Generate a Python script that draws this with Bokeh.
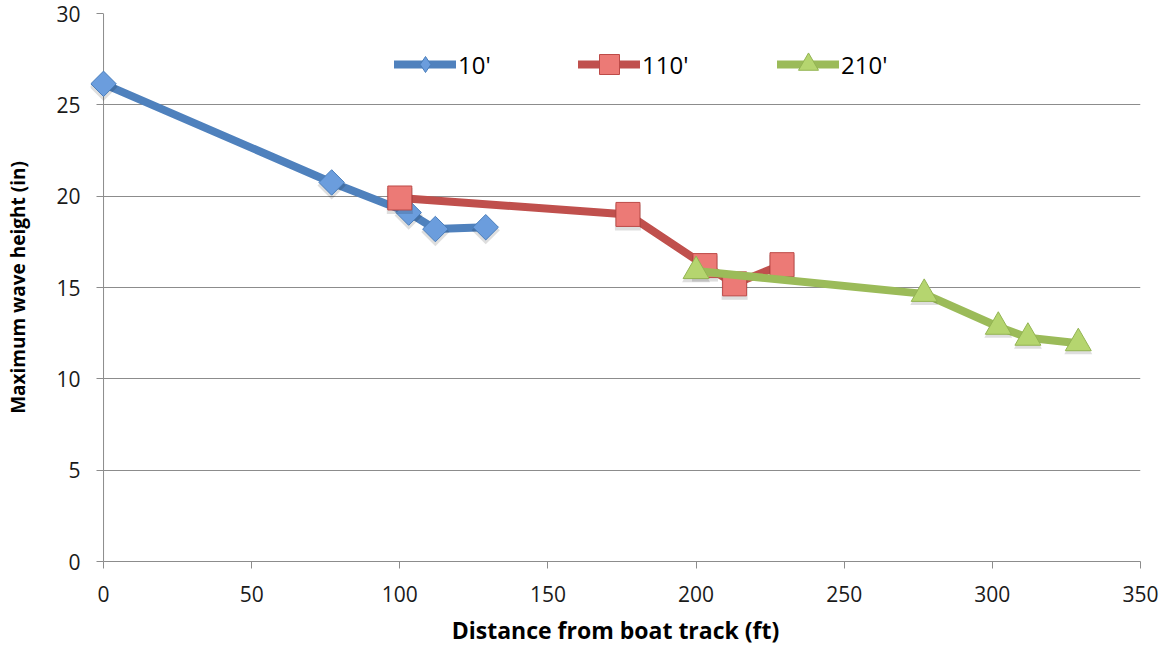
import math
from bokeh.plotting import figure
from bokeh.models import Legend, LegendItem, FixedTicker, Span
from bokeh.embed import file_html
from bokeh.resources import INLINE

# Maximum wave height versus distance from the boat track, three passing distances
series_names = ["10'", "110'", "210'"]

dist_10 = [0, 77, 103, 112, 129]
height_10 = [26.15, 20.75, 19.1, 18.2, 18.3]

dist_110 = [100, 177, 203, 213, 229]
height_110 = [19.9, 19.0, 16.2, 15.2, 16.25]

dist_210 = [200, 277, 302, 312, 329]
height_210 = [15.9, 14.65, 12.85, 12.25, 11.95]

x_ticks = [0, 50, 100, 150, 200, 250, 300, 350]
y_ticks = [0, 5, 10, 15, 20, 25, 30]

FONT = "Open Sans"
X_MIN, X_MAX = 0, 350
PAD = 4.4  # room left of x=0 so the first marker is not cut by the frame

p = figure(
    width=1167, height=650,
    x_range=(X_MIN - PAD, X_MAX), y_range=(0, 30),
    output_backend="svg", toolbar_location=None,
    min_border_left=90, min_border_right=27,
    min_border_top=13, min_border_bottom=89,
)
p.outline_line_color = None
p.background_fill_color = "white"
p.border_fill_color = "white"

AXIS_GREY = "#8c8c8c"

p.xgrid.grid_line_color = None
p.ygrid.grid_line_color = AXIS_GREY
p.ygrid.grid_line_width = 1
p.ygrid.cross_bounds = (X_MIN, X_MAX)

p.xaxis.ticker = FixedTicker(ticks=x_ticks)
p.yaxis.ticker = FixedTicker(ticks=y_ticks)
p.xaxis.bounds = (X_MIN, X_MAX)
for ax in (p.xaxis[0], p.yaxis[0]):
    ax.axis_line_color = AXIS_GREY
    ax.major_tick_line_color = AXIS_GREY
    ax.major_tick_out = 7
    ax.major_tick_in = 0
    ax.minor_tick_line_color = None
    ax.major_label_text_font = FONT
    ax.major_label_text_font_size = "21px"
    ax.major_label_text_color = "#1a1a1a"
    ax.axis_label_text_font = FONT
    ax.axis_label_text_font_style = "bold"
    ax.axis_label_text_font_size = "19px"
    ax.axis_label_text_color = "#000000"

# vertical axis line sits at x = 0; its ticks reach 7 px left of it
p.yaxis.axis_line_color = None
p.yaxis.major_tick_in = 13
p.yaxis.major_tick_out = -6
p.add_layout(Span(location=X_MIN, dimension="height", line_color=AXIS_GREY,
                  line_width=1, level="underlay"))

p.xaxis.axis_label = "Distance from boat track (ft)"
p.yaxis.axis_label = "Maximum wave height (in)"
p.xaxis.axis_label_text_font_size = "23px"
p.xaxis.major_label_standoff = 17
p.yaxis.major_label_standoff = 10
p.xaxis.axis_label_standoff = 9
p.yaxis.axis_label_standoff = 22

styles = [
    dict(x=dist_10, y=height_10, line="#4f81bd", fill="#6b9ddd", edge="#4a7ebb",
         marker="square", size=18, angle=math.pi / 4, key="diamond", ks=16, gh=40),
    dict(x=dist_110, y=height_110, line="#c0504d", fill="#ec7a76", edge="#bd4b48",
         marker="square", size=24, angle=0.0, key="square", ks=20, gh=50),
    dict(x=dist_210, y=height_210, line="#9bbb59", fill="#b5d56f", edge="#93b452",
         marker="triangle", size=26, angle=0.0, key="triangle", ks=20, gh=50),
]

# soft drop shadow under each marker, a few pixels lower
shadow_dy = 3.0 * 30 / 548

legend_items = []
for name, st in zip(series_names, styles):
    ln = p.line(st["x"], st["y"], line_color=st["line"], line_width=8,
                line_cap="round", line_join="round")
    p.scatter(st["x"], [v - shadow_dy for v in st["y"]], marker=st["marker"],
              size=st["size"] + 2, angle=st["angle"], fill_color="black",
              fill_alpha=0.13, line_color=None)
    p.scatter(st["x"], st["y"], marker=st["marker"], size=st["size"],
              angle=st["angle"], fill_color=st["fill"],
              line_color=st["edge"], line_width=1)
    # key symbol used only by the legend
    key = p.scatter(st["x"], st["y"], marker=st["key"], size=st["ks"],
                    fill_color=st["fill"], line_color=st["edge"], line_width=1,
                    visible=False)
    legend_items.append((LegendItem(label=name, renderers=[ln, key]), st["gh"]))

# one legend box per series, laid out in a row across the top
legend_x = [304, 488, 687]
for (item, gh), lx in zip(legend_items, legend_x):
    lg = Legend(items=[item], location=(lx, 497 - gh // 2), orientation="horizontal",
                glyph_width=62, glyph_height=gh, label_standoff=2,
                padding=0, margin=0, spacing=0,
                border_line_color=None, background_fill_alpha=0,
                label_text_font=FONT, label_text_font_size="24px",
                label_text_color="#000000")
    p.add_layout(lg, "center")

open("out.html", "w").write(file_html(p, INLINE))
